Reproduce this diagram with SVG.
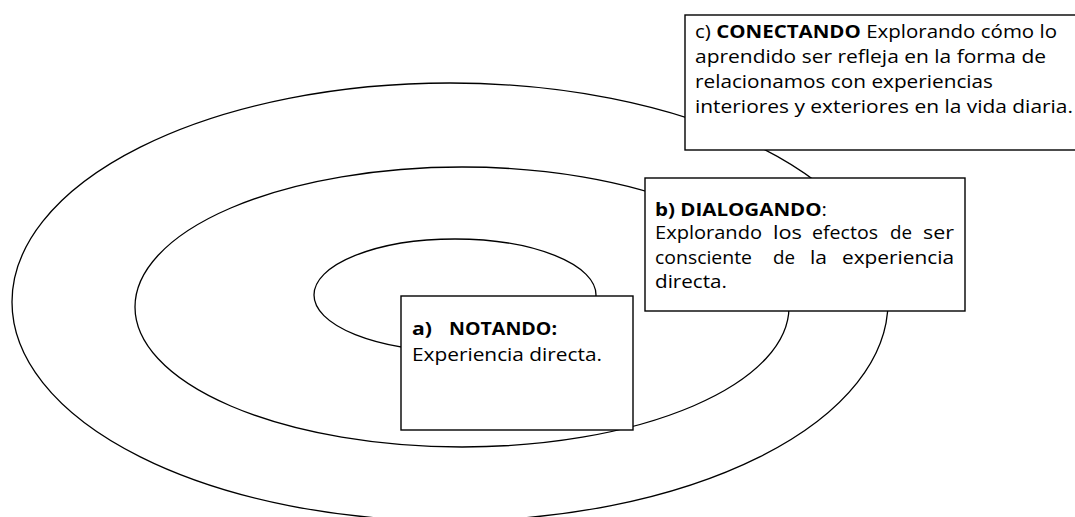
<svg xmlns="http://www.w3.org/2000/svg" width="1075" height="517" viewBox="0 0 1075 517">
  <style>
    .ring { fill: none; stroke: #000; stroke-width: 1.3; }
    .box { fill: #fff; stroke: #000; stroke-width: 1.4; }
    .t { font-family: "Open Sans", Lato, "Liberation Sans", sans-serif; font-size: 18px; fill: #000; }
    .b { font-weight: bold; }
  </style>
  <rect width="1075" height="517" fill="#fff"/>
  <g id="rings">
    <ellipse class="ring" cx="450" cy="302" rx="438" ry="219"/>
    <ellipse class="ring" cx="462" cy="307" rx="327" ry="140"/>
    <ellipse class="ring" cx="455" cy="295" rx="141" ry="56"/>
  </g>
  <g id="node-c">
    <rect class="box" x="685" y="15" width="400" height="135"/>
    <text class="t" x="695" y="38" textLength="362" lengthAdjust="spacingAndGlyphs">c) <tspan class="b">CONECTANDO</tspan> Explorando cómo lo</text>
    <text class="t" x="695" y="63" textLength="351" lengthAdjust="spacingAndGlyphs">aprendido ser refleja en la forma de</text>
    <text class="t" x="695" y="88" textLength="298" lengthAdjust="spacingAndGlyphs">relacionamos con experiencias</text>
    <text class="t" x="695" y="113" textLength="378" lengthAdjust="spacingAndGlyphs">interiores y exteriores en la vida diaria.</text>
  </g>
  <g id="node-b">
    <rect class="box" x="645" y="178" width="320" height="133"/>
    <text class="t" x="655" y="216" textLength="172" lengthAdjust="spacingAndGlyphs"><tspan class="b">b) DIALOGANDO</tspan>:</text>
    <text class="t" x="655" y="239" textLength="107" lengthAdjust="spacingAndGlyphs">Explorando</text>
    <text class="t" x="773" y="239" textLength="29" lengthAdjust="spacingAndGlyphs">los</text>
    <text class="t" x="812" y="239" textLength="66" lengthAdjust="spacingAndGlyphs">efectos</text>
    <text class="t" x="890" y="239" textLength="22" lengthAdjust="spacingAndGlyphs">de</text>
    <text class="t" x="923" y="239" textLength="31" lengthAdjust="spacingAndGlyphs">ser</text>
    <text class="t" x="655" y="264" textLength="97" lengthAdjust="spacingAndGlyphs">consciente</text>
    <text class="t" x="773" y="264" textLength="22" lengthAdjust="spacingAndGlyphs">de</text>
    <text class="t" x="810" y="264" textLength="17" lengthAdjust="spacingAndGlyphs">la</text>
    <text class="t" x="842" y="264" textLength="112" lengthAdjust="spacingAndGlyphs">experiencia</text>
    <text class="t" x="655" y="288" textLength="72" lengthAdjust="spacingAndGlyphs">directa.</text>
  </g>
  <g id="node-a">
    <rect class="box" x="401" y="296" width="232" height="134"/>
    <text class="t b" x="412" y="335" textLength="20" lengthAdjust="spacingAndGlyphs">a)</text>
    <text class="t b" x="449" y="335" textLength="108" lengthAdjust="spacingAndGlyphs">NOTANDO:</text>
    <text class="t" x="412" y="361" textLength="190" lengthAdjust="spacingAndGlyphs">Experiencia directa.</text>
  </g>
</svg>
